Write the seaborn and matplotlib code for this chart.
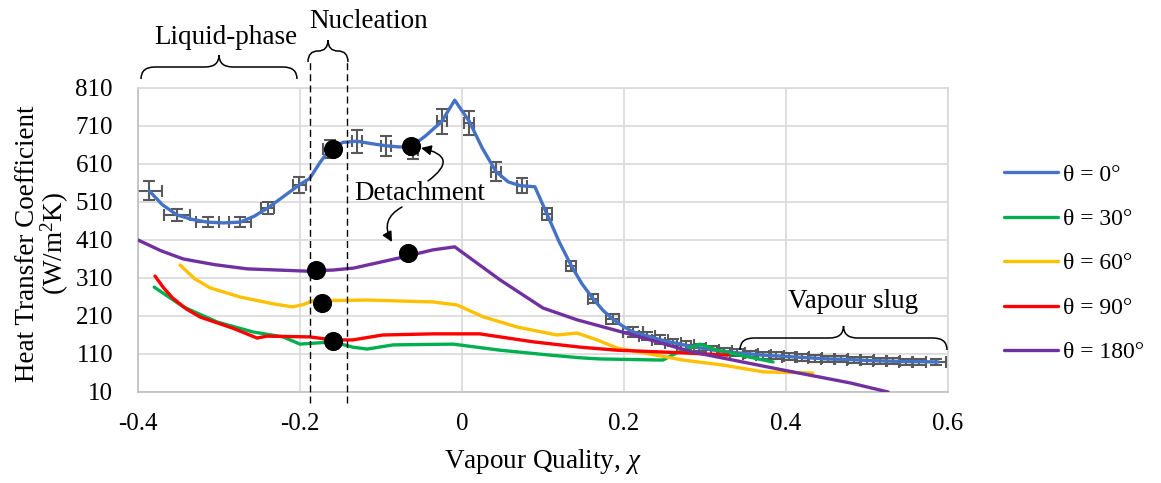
import numpy as np
import pandas as pd
import matplotlib
matplotlib.use("Agg")
import matplotlib.pyplot as plt
import seaborn as sns
from matplotlib.path import Path
from matplotlib.patches import PathPatch, FancyArrowPatch

# ---------------- data ----------------
labels = ["θ = 0°", "θ = 30°", "θ = 60°", "θ = 90°", "θ = 180°"]
colors = ["#4472C4", "#00B050", "#FFC000", "#FF0000", "#7030A0"]

x0 = [-0.386, -0.370, -0.352, -0.333, -0.314, -0.295, -0.274, -0.257, -0.240, -0.220,
      -0.201, -0.188, -0.175, -0.163, -0.147, -0.130, -0.110, -0.094, -0.078, -0.063,
      -0.045, -0.025, -0.009, 0.009, 0.025, 0.042, 0.057, 0.072, 0.090, 0.105,
      0.120, 0.135, 0.148, 0.162, 0.174, 0.186, 0.198, 0.211, 0.228, 0.244,
      0.260, 0.276, 0.292, 0.308, 0.324, 0.340, 0.356, 0.372, 0.388, 0.404,
      0.420, 0.436, 0.452, 0.468, 0.484, 0.500, 0.516, 0.532, 0.548, 0.564,
      0.588]
y0 = [539, 503, 476, 464, 457, 455, 457, 472, 494, 525,
      555, 572, 615, 649, 667, 670, 663, 658, 655, 655,
      684, 722, 778, 722, 652, 590, 563, 553, 550, 478,
      405, 342, 295, 255, 225, 202, 184, 168, 158, 148,
      140, 133, 127, 121, 117, 113, 110, 107, 105, 103,
      101, 99, 97, 96, 95, 93, 92, 91, 90, 90,
      89]

# error bars on theta = 0
ex0 = [-0.386, -0.352, -0.314, -0.274, -0.240, -0.201, -0.163, -0.130, -0.094, -0.060,
       -0.025, 0.009, 0.042, 0.074, 0.105, 0.135, 0.162, 0.186, 0.211, 0.228,
       0.244, 0.260, 0.276, 0.292, 0.308, 0.324, 0.340, 0.356, 0.372, 0.388,
       0.404, 0.420, 0.436, 0.452, 0.468, 0.484, 0.500, 0.516, 0.532, 0.548,
       0.564, 0.585]
ey0 = [539, 476, 457, 457, 494, 555, 649, 670, 658, 648,
       722, 718, 590, 553, 478, 342, 255, 202, 168, 158,
       148, 140, 133, 127, 121, 117, 113, 110, 107, 105,
       103, 101, 99, 97, 96, 95, 93, 92, 91, 90,
       90, 89]
xerr0 = [0.016, 0.016, 0.014, 0.014, 0.008, 0.008, 0.008, 0.006, 0.006, 0.006,
         0.006, 0.006, 0.006, 0.006, 0.006, 0.006, 0.006, 0.008, 0.012, 0.010,
         0.010, 0.010, 0.010, 0.009, 0.009, 0.009, 0.009, 0.009, 0.009, 0.009,
         0.009, 0.009, 0.009, 0.009, 0.009, 0.009, 0.009, 0.009, 0.009, 0.009,
         0.009, 0.012]
yerr0 = [25, 16, 14, 14, 16, 20, 24, 30, 26, 24,
         32, 32, 24, 20, 16, 13, 12, 12, 12, 11,
         11, 10, 10, 10, 10, 9, 9, 9, 9, 9,
         9, 9, 9, 9, 8, 8, 8, 8, 8, 8,
         8, 8]

x30 = [-0.380, -0.344, -0.302, -0.258, -0.221, -0.200, -0.159, -0.135, -0.117, -0.085,
       -0.011, 0.047, 0.109, 0.146, 0.170, 0.248, 0.265, 0.294, 0.315, 0.350, 0.384]
y30 = [286, 234, 194, 168, 155, 136, 142, 128, 123, 134,
       136, 120, 107, 100, 97, 94, 113, 136, 120, 104, 89]

x60 = [-0.348, -0.330, -0.311, -0.274, -0.233, -0.209, -0.196, -0.184, -0.117, -0.036,
       -0.006, 0.026, 0.068, 0.117, 0.142, 0.167, 0.191, 0.273, 0.322, 0.372, 0.433]
y60 = [344, 308, 284, 260, 242, 234, 240, 250, 252, 247,
       239, 208, 181, 160, 165, 147, 126, 94, 81, 63, 60]

x90 = [-0.379, -0.368, -0.357, -0.340, -0.323, -0.283, -0.253, -0.241, -0.188, -0.159,
       -0.135, -0.098, -0.036, 0.022, 0.088, 0.146, 0.191, 0.273, 0.328]
y90 = [315, 283, 257, 228, 207, 178, 152, 157, 155, 147,
       147, 160, 163, 163, 142, 128, 120, 113, 107]

x180 = [-0.400, -0.372, -0.344, -0.305, -0.265, -0.191, -0.159, -0.134, -0.077, -0.036,
        -0.009, 0.047, 0.100, 0.142, 0.211, 0.285, 0.396, 0.479, 0.526]
y180 = [410, 382, 360, 345, 334, 328, 331, 336, 363, 384,
        392, 305, 231, 200, 160, 115, 68, 34, 10]

dots_x = [-0.159, -0.063, -0.180, -0.067, -0.173, -0.159]
dots_y = [649, 657, 331, 376, 244, 144]

xticks = [-0.4, -0.2, 0.0, 0.2, 0.4, 0.6]
xticklabels = ["-0.4", "-0.2", "0", "0.2", "0.4", "0.6"]
yticks = [10, 110, 210, 310, 410, 510, 610, 710, 810]

nucleation_x = [-0.188, -0.142]

# ---------------- build frame ----------------
frames = []
for lab, xs, ys in zip(labels, [x0, x30, x60, x90, x180], [y0, y30, y60, y90, y180]):
    frames.append(pd.DataFrame({"x": xs, "y": ys, "series": lab}))
df = pd.concat(frames, ignore_index=True)

# ---------------- style ----------------
sns.set_theme(style="white")
plt.rcParams["font.family"] = ["Liberation Serif", "DejaVu Serif"]
plt.rcParams["mathtext.fontset"] = "custom"
plt.rcParams["mathtext.rm"] = "Liberation Serif"
plt.rcParams["mathtext.it"] = "Liberation Serif:italic"
plt.rcParams["text.color"] = "black"
plt.rcParams["axes.labelcolor"] = "black"

W, H = 1161, 483
fig = plt.figure(figsize=(W / 100, H / 100), dpi=100)
L, R, T, B = 138, 948, 88, 392
ax = fig.add_axes([L / W, 1 - B / H, (R - L) / W, (B - T) / H])

ax.errorbar(ex0, ey0, xerr=xerr0, yerr=yerr0, fmt="none", ecolor="#595959",
            elinewidth=1.5, capsize=4, capthick=1.5, zorder=2)

sns.lineplot(data=df, x="x", y="y", hue="series", palette=colors, hue_order=labels,
             sort=False, estimator=None, units="series", linewidth=2.4, ax=ax,
             legend=True, zorder=3)
handles, labs = ax.get_legend_handles_labels()
ax.get_legend().remove()

ax.scatter(dots_x, dots_y, s=190, color="black", zorder=5, linewidths=0)

ax.set_xlim(-0.4, 0.6)
ax.set_ylim(10, 810)
ax.set_xticks(xticks)
ax.set_xticklabels(xticklabels)
ax.set_yticks(yticks)
ax.tick_params(axis="both", length=0, labelsize=18, colors="black")
ax.tick_params(axis="x", pad=15)
ax.tick_params(axis="y", pad=18)
ax.grid(True, color="#D9D9D9", linewidth=1.2)
ax.set_axisbelow(True)
for s in ["top", "right"]:
    ax.spines[s].set_color("#D9D9D9")
    ax.spines[s].set_linewidth(1.2)
for s in ["left", "bottom"]:
    ax.spines[s].set_color("#BFBFBF")
    ax.spines[s].set_linewidth(1.2)
ax.set_xlabel("")
ax.set_ylabel("")

FS = 19.5
fig.text(543 / W, 1 - 462 / H, r"Vapour Quality, $\chi$", ha="center", va="center", fontsize=FS)
fig.text(43 / W, 1 - 244 / H, "Heat Transfer Coefficient\n(W/m$^2$K)", ha="center", va="center",
         rotation=90, fontsize=FS, multialignment="center", linespacing=0.95)

fig.legend(handles, labs, loc="upper left", bbox_to_anchor=(997 / W, 1 - 157 / H),
           frameon=False, fontsize=17, handlelength=2.3, handletextpad=0.2,
           labelspacing=0.97, borderaxespad=0, borderpad=0.3)

ytop = (B - 62) / (B - T)
ybot = (B - 403) / (B - T)
for xv in nucleation_x:
    ax.plot([xv, xv], [ybot, ytop], transform=ax.get_xaxis_transform(), clip_on=False,
            color="black", linewidth=1.0, dashes=(5, 3), zorder=4)


def fig_pt(px, py):
    return (px / W, 1 - py / H)


def brace(px0, px1, y_end, y_mid, y_tip, r=12):
    xc = (px0 + px1) / 2
    pts = [(px0, y_end), (px0, y_mid), (px0 + r, y_mid),
           (xc - r, y_mid), (xc, y_mid), (xc, y_tip),
           (xc, y_mid), (xc + r, y_mid),
           (px1 - r, y_mid), (px1, y_mid), (px1, y_end)]
    codes = [Path.MOVETO, Path.CURVE3, Path.CURVE3,
             Path.LINETO, Path.CURVE3, Path.CURVE3,
             Path.CURVE3, Path.CURVE3,
             Path.LINETO, Path.CURVE3, Path.CURVE3]
    verts = [fig_pt(*p) for p in pts]
    patch = PathPatch(Path(verts, codes), facecolor="none", edgecolor="black",
                      linewidth=1.1, transform=fig.transFigure, clip_on=False)
    fig.add_artist(patch)


brace(141, 297, 79, 67, 55, r=14)
brace(308, 348, 62, 51, 40, r=10)
brace(740, 947, 350, 338, 326, r=14)

fig.text(*fig_pt(226, 37), "Liquid-phase", ha="center", va="center", fontsize=FS)
fig.text(*fig_pt(369, 21), "Nucleation", ha="center", va="center", fontsize=FS)
fig.text(*fig_pt(853, 301), "Vapour slug", ha="center", va="center", fontsize=FS)
fig.text(*fig_pt(420, 193), "Detachment", ha="center", va="center", fontsize=FS)

a1 = FancyArrowPatch(fig_pt(428, 181), fig_pt(421, 148), transform=fig.transFigure,
                     connectionstyle="arc3,rad=1.1", arrowstyle="-|>,head_length=6,head_width=3",
                     color="black", linewidth=1.1, shrinkA=0, shrinkB=0)
fig.add_artist(a1)
a2 = FancyArrowPatch(fig_pt(402, 207), fig_pt(392, 242), transform=fig.transFigure,
                     connectionstyle="arc3,rad=0.5", arrowstyle="-|>,head_length=6,head_width=3",
                     color="black", linewidth=1.1, shrinkA=0, shrinkB=0)
fig.add_artist(a2)

fig.savefig("out.png", dpi=100)
